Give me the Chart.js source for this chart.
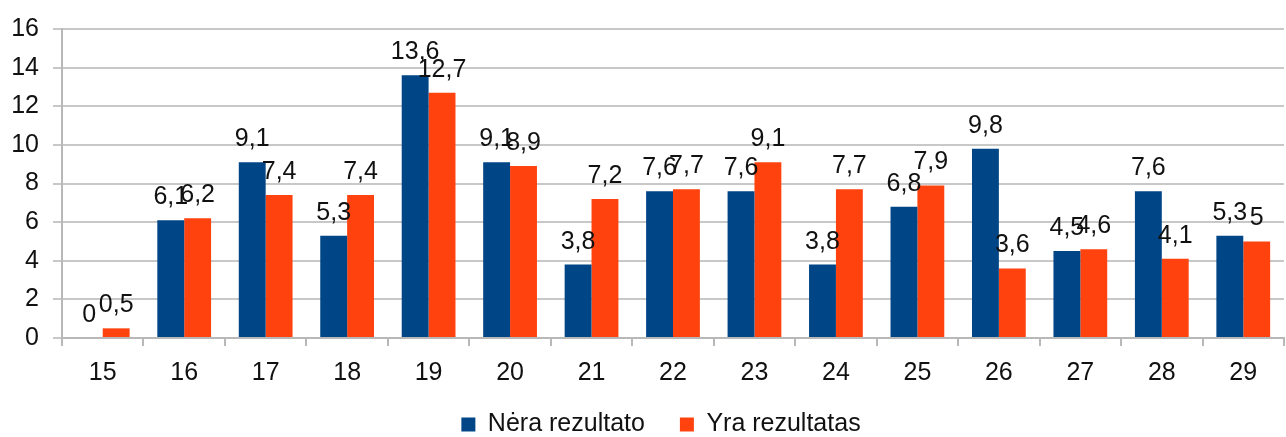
<!DOCTYPE html>
<html><head><meta charset="utf-8">
<script src="https://cdn.jsdelivr.net/npm/chart.js@4/dist/chart.umd.min.js"></script>
<style>html,body{margin:0;padding:0;background:#fff}#wrap{width:1286px;height:437px}</style>
</head><body><div id="wrap"><canvas id="c" width="1286" height="437"></canvas></div>
<script>
const categories = ['15','16','17','18','19','20','21','22','23','24','25','26','27','28','29'];
const neraValues = [0, 6.1, 9.1, 5.3, 13.6, 9.1, 3.8, 7.6, 7.6, 3.8, 6.8, 9.8, 4.5, 7.6, 5.3];
const yraValues = [0.5, 6.2, 7.4, 7.4, 12.7, 8.9, 7.2, 7.7, 9.1, 7.7, 7.9, 3.6, 4.6, 4.1, 5];
const seriesNames = ['Nėra rezultato', 'Yra rezultatas'];
const yTicks = [0, 2, 4, 6, 8, 10, 12, 14, 16];

const FONT = 'Liberation Sans, Arial, sans-serif';
const FS = 25;
const labelPlugin = {
  id: 'valueLabels',
  beforeDraw(chart) {
    const sx = chart.scales.x;
    if (sx) sx._computeLabelArea = function () { return undefined; };
  },
  afterDatasetsDraw(chart) {
    const ctx = chart.ctx;
    ctx.save();
    ctx.font = FS + 'px ' + FONT;
    ctx.fillStyle = '#111';
    ctx.textAlign = 'center';
    ctx.textBaseline = 'alphabetic';
    chart.data.datasets.forEach((ds, i) => {
      const meta = chart.getDatasetMeta(i);
      meta.data.forEach((el, j) => {
        const v = ds.data[j];
        ctx.fillText(String(v).replace('.', ','), el.x, el.y - 16);
      });
    });
    ctx.restore();
  }
};
const legendHeightPlugin = {
  id: 'legendHeight',
  beforeUpdate(chart) {
    const lg = chart.legend;
    if (lg && !lg._patched) {
      const orig = lg.fit.bind(lg);
      lg.fit = function () { orig(); this.height = 60; };
      const od = lg.draw.bind(lg);
      lg.draw = function () { const c = this.ctx; c.save(); c.translate(19, 0); od(); c.restore(); };
      lg._patched = true;
    }
  }
};

new Chart(document.getElementById('c'), {
  type: 'bar',
  data: {
    labels: categories,
    datasets: [
      { label: seriesNames[0], data: neraValues, backgroundColor: '#004586', categoryPercentage: 0.66, barPercentage: 1 },
      { label: seriesNames[1], data: yraValues, backgroundColor: '#ff420e', categoryPercentage: 0.66, barPercentage: 1 }
    ]
  },
  options: {
    responsive: false,
    animation: false,
    devicePixelRatio: 1,
    layout: { padding: { top: 16, right: 2, left: 0, bottom: 0 } },
    plugins: {
      tooltip: { enabled: false },
      legend: {
        position: 'bottom',
        labels: { font: { family: FONT, size: FS }, color: '#111', boxWidth: 14, boxHeight: 14, padding: 35 }
      }
    },
    scales: {
      x: {
        afterFit(scale) { scale.height = 39; },
        grid: { display: true, drawOnChartArea: false, drawTicks: true, tickLength: 8, color: '#b8b8b8', lineWidth: 2 },
        border: { color: '#b8b8b8', width: 2 },
        ticks: { font: { family: FONT, size: FS }, color: '#111', padding: 12 }
      },
      y: {
        min: 0, max: 16,
        afterBuildTicks(scale) { scale.ticks = yTicks.map(v => ({ value: v })); },
        afterFit(scale) { scale.width = 62; },
        grid: { color: '#c8c8c8', lineWidth: 2, tickLength: 9 },
        border: { color: '#b8b8b8', width: 2 },
        ticks: { font: { family: FONT, size: FS }, color: '#111', padding: 14 }
      }
    }
  },
  plugins: [legendHeightPlugin, labelPlugin]
});
</script></body></html>
